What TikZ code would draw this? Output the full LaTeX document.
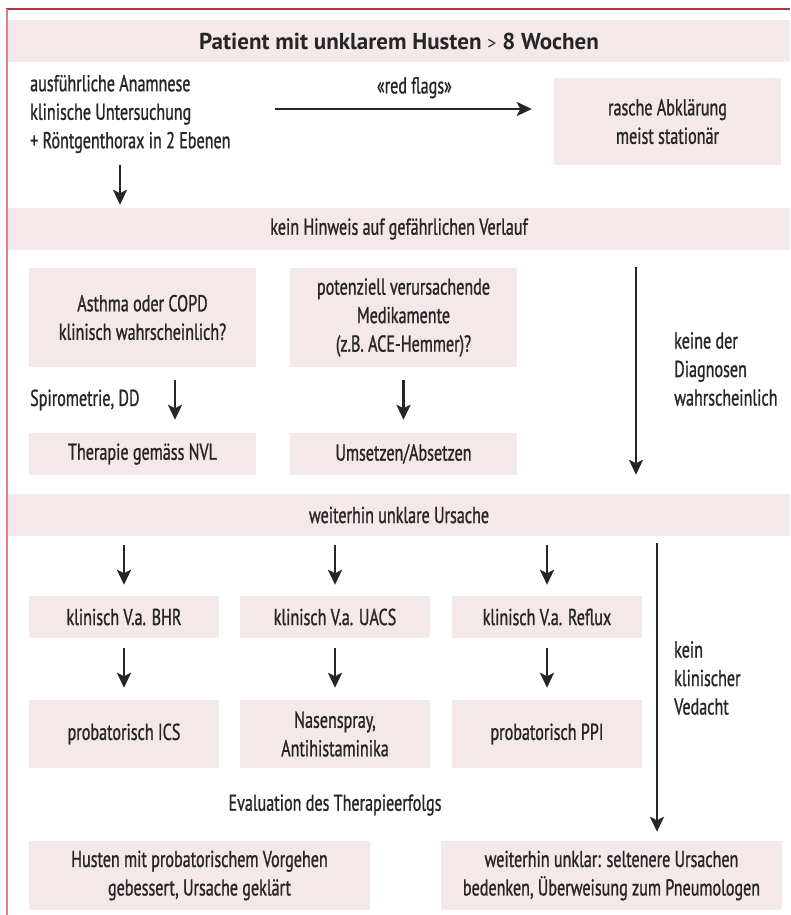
\documentclass[tikz,border=0pt]{standalone}
\usepackage{fontspec}
\setmainfont{PT Sans}[FakeStretch=0.7, FakeBold=1.0]
\newfontfamily\titlefont{PT Sans}[FakeStretch=1.0]
\usepackage{xcolor}
\usepackage{tikz}
\usetikzlibrary{positioning,arrows.meta}

\definecolor{boxpink}{HTML}{F5E8E9}
\definecolor{ink}{HTML}{262626}
\definecolor{framered}{HTML}{B3323F}
\definecolor{framepink}{HTML}{DB7F8C}

\begin{document}
\begin{tikzpicture}[x=1pt, y=-1pt, auto,
    every node/.style={text=ink, font=\fontsize{23}{28.5}\selectfont},
    band/.style={fill=boxpink, minimum width=782pt, minimum height=42pt, inner sep=0pt},
    stepbox/.style={fill=boxpink, minimum width=227pt, minimum height=42pt, inner sep=0pt, align=center},
    smallbox/.style={stepbox, minimum width=190pt},
    widebox/.style={stepbox, minimum width=341pt, minimum height=69pt},
    arr/.style={draw=ink, line width=2.7pt, -{Stealth[length=15pt, width=14pt, inset=3.5pt]}}]
\useasboundingbox (0,0) rectangle (790,915);

% frame
\draw[framered, line width=1.3pt] (6,9) -- (790,9);
\draw[framepink, line width=2pt] (7,9) -- (7,915);

% top part
\node[band, font=\titlefont\bfseries\fontsize{23}{24}\selectfont] (title) at (399,41)
    {Patient mit unklarem Husten {\mdseries\fontsize{18}{20}\selectfont >} 8 Wochen};
\node[anchor=west, align=left, inner sep=0pt] (anamnese) at (30,114)
    {ausführliche Anamnese\\klinische Untersuchung\\+ Röntgenthorax in 2 Ebenen};
\node[stepbox, minimum height=87pt] (rasche) at (667.5,121.5) {rasche Abklärung\\meist stationär};
\coordinate (rf) at (275,109);
\draw[arr, shorten >=22pt] (rf) -- (rf -| rasche.west)
    node[midway, above=6pt] {«red flags»};

\node[band] (hinweis) at (399,229) {kein Hinweis auf gefährlichen Verlauf};
\coordinate (a0) at (120,165);
\draw[arr, shorten >=3pt] (a0) -- (a0 |- hinweis.north);

% middle part
\node[stepbox, minimum height=99pt] (asthma) at (142.5,317.5) {Asthma oder COPD\\klinisch wahrscheinlich?};
\node[stepbox, minimum height=99pt] (medik) at (403.5,317.5) {potenziell verursachende\\Medikamente\\(z.B. ACE-Hemmer)?};
\node[stepbox] (nvl) at (142.5,454) {Therapie gemäss NVL};
\node[stepbox] (absetzen) at (403.5,454) {Umsetzen/Absetzen};
\node[anchor=west, inner sep=0pt] (spiro) at (30,400) {Spirometrie, DD};
\coordinate (a1) at (175,367);
\draw[arr, shorten <=13pt, shorten >=13pt] (a1) -- (a1 |- nvl.north);
\draw[arr, shorten <=13pt, shorten >=13pt] (medik.south) -- (absetzen.north);

\node[band] (ursache) at (399,515) {weiterhin unklare Ursache};
\coordinate (a2) at (636,250);
\draw[arr, shorten <=17pt, shorten >=19pt] (a2) -- (a2 |- ursache.north);
\node[anchor=west, align=left, inner sep=0pt] (keine) at (674,369) {keine der\\Diagnosen\\wahrscheinlich};

% lower part
\node[smallbox] (bhr) at (124,617) {klinisch V.a. BHR};
\node[smallbox] (uacs) at (335,617) {klinisch V.a. UACS};
\node[smallbox] (reflux) at (547,617) {klinisch V.a. Reflux};
\node[smallbox, minimum height=68pt] (ics) at (124,734) {probatorisch ICS};
\node[smallbox, minimum height=68pt] (nasen) at (335,734) {Nasenspray,\\Antihistaminika};
\node[smallbox, minimum height=68pt] (ppi) at (547,734) {probatorisch PPI};

\foreach \b/\t in {bhr/ics, uacs/nasen, reflux/ppi} {
  \draw[arr, shorten <=9pt, shorten >=11pt] (ursache.south -| \b) -- (\b.north);
  \draw[arr, shorten <=10pt, shorten >=12pt] (\b.south) -- (\t.north);
}

\node (evaluation) at (335,805) {Evaluation des Therapieerfolgs};
\node[widebox] (gebessert) at (199.5,875.5) {Husten mit probatorischem Vorgehen\\gebessert, Ursache geklärt};
\node[widebox] (selten) at (611.5,875.5) {weiterhin unklar: seltenere Ursachen\\bedenken, Überweisung zum Pneumologen};

\coordinate (a3) at (657,536);
\draw[arr, shorten <=7pt, shorten >=9pt] (a3) -- (a3 |- selten.north);
\node[anchor=west, align=left, inner sep=0pt] (verdacht) at (674,678) {kein\\klinischer\\Vedacht};

\end{tikzpicture}
\end{document}
